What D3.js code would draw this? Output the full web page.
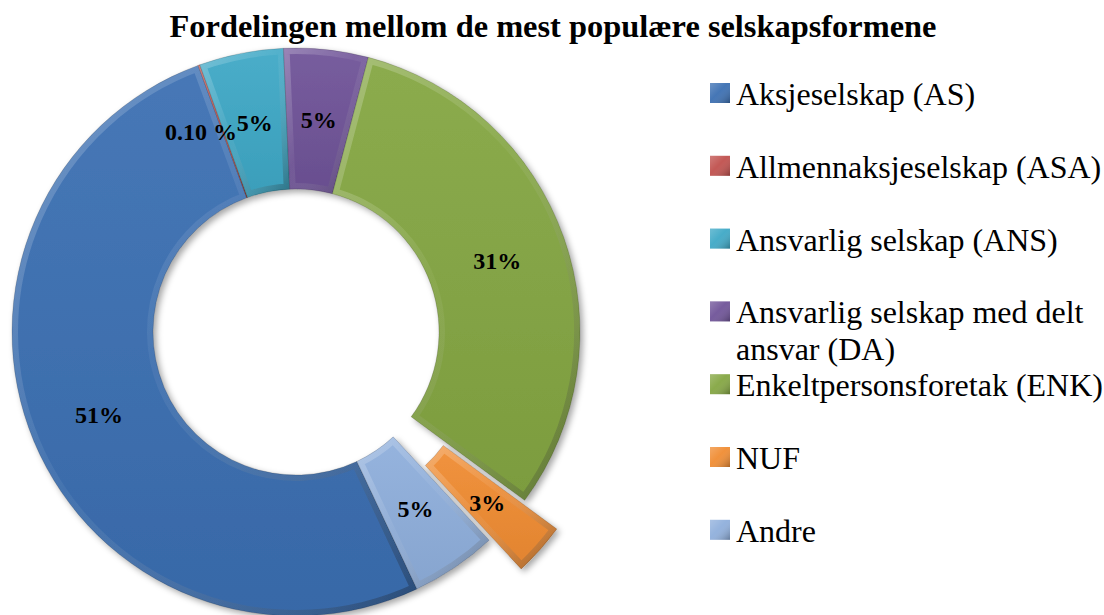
<!DOCTYPE html>
<html>
<head>
<meta charset="utf-8">
<script src="https://cdn.jsdelivr.net/npm/d3@7"></script>
<style>
  body { margin: 0; background: #fff; }
  text { font-family: "Liberation Serif", "Times New Roman", serif; }
</style>
</head>
<body>
<div id="chart"></div>
<script>
// data
const categories = ["Aksjeselskap (AS)", "Allmennaksjeselskap (ASA)", "Ansvarlig selskap (ANS)",
    "Ansvarlig selskap med delt ansvar (DA)", "Enkeltpersonsforetak (ENK)", "NUF", "Andre"];
const values = [51.4, 0.1, 4.8, 4.8, 31.0, 3.0, 4.9];
const valueLabels = ["51%", "0.10 %", "5%", "5%", "31%", "3%", "5%"];
const colors = ["#3b6fb2", "#c0504d", "#3ea8c6", "#6f5398", "#84a642", "#f08c32", "#8fafdc"];
const exploded = ["NUF"];
const title = "Fordelingen mellom de mest populære selskapsformene";

const width = 1104, height = 615;
const cx = 296, cy = 332;
const outerR = 284, innerR = 143;
const explodeBy = 43;
const firstAngle = 154.8 * Math.PI / 180;

const svg = d3.select("#chart").append("svg")
    .attr("width", width)
    .attr("height", height);

svg.append("rect").attr("width", width).attr("height", height).attr("fill", "#fff");

const defs = svg.append("defs");

// soft shadow under the ring
const shadow = defs.append("filter").attr("id", "shadow")
    .attr("x", "-20%").attr("y", "-20%").attr("width", "140%").attr("height", "140%");
shadow.append("feDropShadow")
    .attr("dx", 3).attr("dy", 3).attr("stdDeviation", 3)
    .attr("flood-color", "#000").attr("flood-opacity", 0.35);

// bevel gradient: light top-left, dark bottom-right
const bevel = defs.append("linearGradient").attr("id", "bevel")
    .attr("x1", "0%").attr("y1", "0%").attr("x2", "100%").attr("y2", "100%");
bevel.append("stop").attr("offset", "0%").attr("stop-color", "#fff").attr("stop-opacity", 0.25);
bevel.append("stop").attr("offset", "45%").attr("stop-color", "#fff").attr("stop-opacity", 0.05);
bevel.append("stop").attr("offset", "100%").attr("stop-color", "#000").attr("stop-opacity", 0.3);

const sheen = defs.append("linearGradient").attr("id", "sheen")
    .attr("x1", "0%").attr("y1", "0%").attr("x2", "0%").attr("y2", "100%");
sheen.append("stop").attr("offset", "0%").attr("stop-color", "#fff").attr("stop-opacity", 0.06);
sheen.append("stop").attr("offset", "100%").attr("stop-color", "#000").attr("stop-opacity", 0.06);

const pie = d3.pie().sort(null).value(d => d)
    .startAngle(firstAngle).endAngle(firstAngle + 2 * Math.PI);
const arcs = pie(values);

const arc = d3.arc().innerRadius(innerR).outerRadius(outerR);

const color = d3.scaleOrdinal().domain(categories).range(colors);

function offset(d, i) {
    if (!exploded.includes(categories[i])) return [0, 0];
    const a = (d.startAngle + d.endAngle) / 2;
    return [Math.sin(a) * explodeBy, -Math.cos(a) * explodeBy];
}

const ring = svg.append("g")
    .attr("transform", `translate(${cx},${cy})`)
    .attr("filter", "url(#shadow)");

arcs.forEach((d, i) => {
    defs.append("clipPath").attr("id", "clip" + i)
        .append("path").attr("d", arc(d));
});

const slices = ring.selectAll(".slice")
    .data(arcs)
    .enter().append("g")
    .attr("class", "slice")
    .attr("transform", (d, i) => `translate(${offset(d, i)})`);

slices.append("path")
    .attr("d", arc)
    .attr("fill", (d, i) => color(categories[i]));

slices.append("path")
    .attr("d", arc)
    .attr("fill", "url(#sheen)");

slices.append("path")
    .attr("d", arc)
    .attr("fill", "none")
    .attr("stroke", "url(#bevel)")
    .attr("stroke-width", 12)
    .attr("clip-path", (d, i) => `url(#clip${i})`);

slices.append("path")
    .attr("d", arc)
    .attr("fill", "none")
    .attr("stroke", "#000")
    .attr("stroke-opacity", 0.15)
    .attr("stroke-width", 1);

// value labels
svg.append("g")
    .attr("transform", `translate(${cx},${cy})`)
    .selectAll("text")
    .data(arcs)
    .enter().append("text")
    .attr("transform", (d, i) => {
        const c = arc.centroid(d);
        const o = offset(d, i);
        // tiny slice: Excel pushes its label off to the left
        const nudge = d.value < 1 ? -22 : 0;
        return `translate(${c[0] + o[0] + nudge},${c[1] + o[1]})`;
    })
    .attr("text-anchor", "middle")
    .attr("dy", "0.35em")
    .attr("font-size", "24px")
    .attr("font-weight", "bold")
    .attr("fill", "#000")
    .text((d, i) => valueLabels[i]);

// title
svg.append("text")
    .attr("x", 553)
    .attr("y", 37)
    .attr("text-anchor", "middle")
    .attr("font-size", "32.4px")
    .attr("font-weight", "bold")
    .text(title);

// legend
const legendX = 710, legendTop = 105, legendStep = 72.8;
const textX = 26, wrapAt = 370;
const legend = svg.append("g").attr("class", "legend");

categories.forEach((name, i) => {
    const y = legendTop + i * legendStep;
    const g = legend.append("g").attr("transform", `translate(${legendX},${y})`);
    g.append("rect")
        .attr("x", 0).attr("y", -22)
        .attr("width", 20).attr("height", 20)
        .attr("fill", color(name));
    g.append("rect")
        .attr("x", 0).attr("y", -22)
        .attr("width", 20).attr("height", 20)
        .attr("fill", "url(#bevel)");
    const t = g.append("text")
        .attr("x", textX).attr("y", 0)
        .attr("font-size", "32px")
        .attr("fill", "#000");
    // wrap long names onto a second line
    const words = name.split(" ");
    let line = [], tspan = t.append("tspan").attr("x", textX).attr("dy", 0);
    words.forEach(w => {
        line.push(w);
        tspan.text(line.join(" "));
        if (tspan.node().getComputedTextLength() > wrapAt && line.length > 1) {
            line.pop();
            tspan.text(line.join(" "));
            line = [w];
            tspan = t.append("tspan").attr("x", textX).attr("dy", 37).text(w);
        }
    });
});
</script>
</body>
</html>
